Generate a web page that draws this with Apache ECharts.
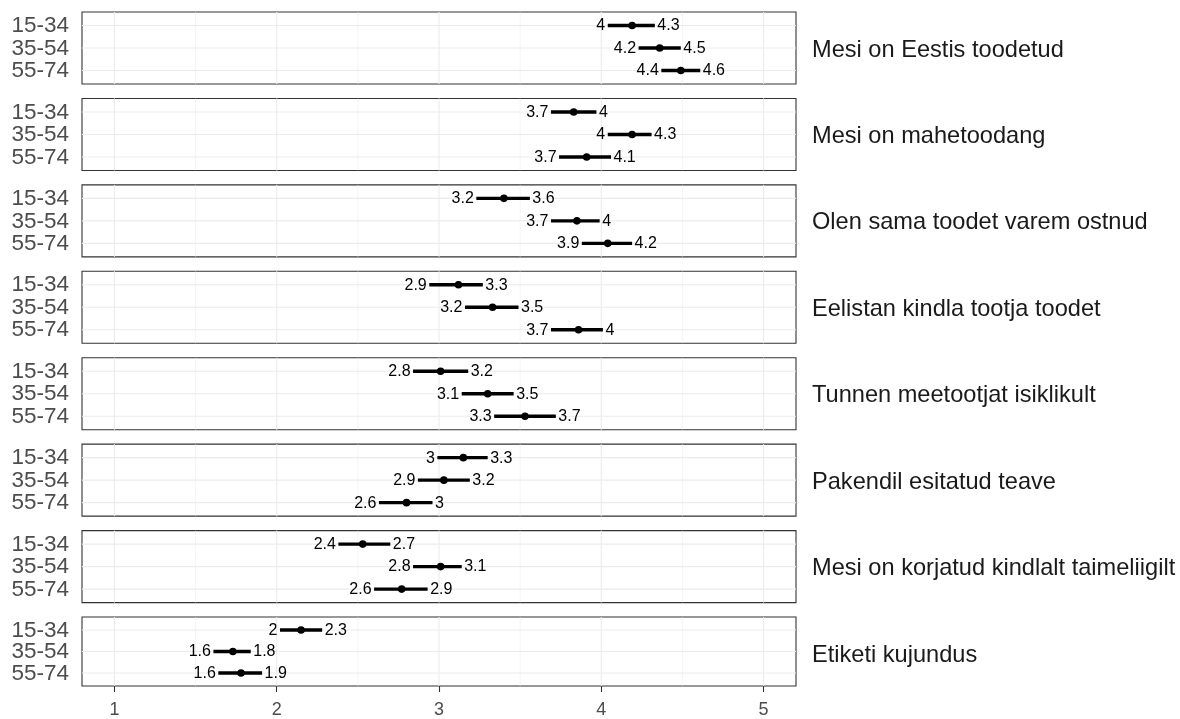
<!DOCTYPE html>
<html><head><meta charset="utf-8">
<script src="https://cdn.jsdelivr.net/npm/echarts@6/dist/echarts.min.js"></script>
<style>html,body{margin:0;padding:0;background:#fff}#c{width:1180px;height:719px}</style>
</head><body><div id="c"></div>
<script>
// ---- data ----
const panels = [
  'Mesi on Eestis toodetud',
  'Mesi on mahetoodang',
  'Olen sama toodet varem ostnud',
  'Eelistan kindla tootja toodet',
  'Tunnen meetootjat isiklikult',
  'Pakendil esitatud teave',
  'Mesi on korjatud kindlalt taimeliigilt',
  'Etiketi kujundus'
];
const ageGroups = ['15-34', '35-54', '55-74'];
const xTicks = [1, 2, 3, 4, 5];
const xMinorGrid = [1.5, 2.5, 3.5, 4.5];
// each row: [15-34, 35-54, 55-74]
const lower = [
  [4.04, 4.23, 4.37],
  [3.69, 4.04, 3.74],
  [3.23, 3.69, 3.88],
  [2.94, 3.16, 3.69],
  [2.84, 3.14, 3.34],
  [2.99, 2.87, 2.63],
  [2.38, 2.84, 2.60],
  [2.02, 1.61, 1.64]
];
const mean = [
  [4.19, 4.36, 4.49],
  [3.83, 4.19, 3.91],
  [3.40, 3.85, 4.04],
  [3.12, 3.33, 3.86],
  [3.01, 3.30, 3.53],
  [3.15, 3.03, 2.80],
  [2.53, 3.01, 2.77],
  [2.15, 1.73, 1.78]
];
const upper = [
  [4.33, 4.49, 4.61],
  [3.97, 4.31, 4.06],
  [3.56, 3.99, 4.19],
  [3.27, 3.49, 4.01],
  [3.18, 3.46, 3.72],
  [3.30, 3.19, 2.96],
  [2.70, 3.14, 2.93],
  [2.28, 1.84, 1.91]
];

// ---- layout / style ----
const FONT = '"Liberation Sans", Arial, sans-serif';
const panelTop0 = 12, panelStep = 86.43, panelH = 72, panelLeft = 82, panelRight = 384;
const fmt = v => String(Number(v.toFixed(1)));

const grids = [], xAxes = [], yAxes = [], series = [], titles = [];
panels.forEach((name, i) => {
  const top = panelTop0 + i * panelStep;
  const last = i === panels.length - 1;
  grids.push({left: panelLeft, right: panelRight, top: top, height: panelH,
    show: true, borderColor: '#333333', borderWidth: 1.1, backgroundColor: 'transparent', containLabel: false});
  xAxes.push({type: 'value', gridIndex: i, min: 0.8, max: 5.2,
    axisLine: {show: false}, splitLine: {show: false},
    axisTick: {show: last, customValues: xTicks, length: 6, lineStyle: {color: '#333333', width: 1.1}},
    axisLabel: {show: last, customValues: xTicks, showMinLabel: true, showMaxLabel: true,
      color: '#4d4d4d', fontSize: 18, fontFamily: FONT, margin: 15}
  });
  yAxes.push({type: 'value', gridIndex: i, min: 0.4, max: 3.6, inverse: true,
    axisLine: {show: false}, splitLine: {show: false}, axisTick: {show: false},
    axisLabel: {show: false}
  });
  // grid lines and age-group labels (through scales)
  const gl = [];
  xTicks.forEach(v => gl.push([v, 2, 'xmaj']));
  xMinorGrid.forEach(v => gl.push([v, 2, 'xmin']));
  ageGroups.forEach((g, k) => gl.push([3, k + 1, 'y']));
  series.push({type: 'custom', xAxisIndex: i, yAxisIndex: i, z: 1, silent: true, clip: false,
    data: gl,
    renderItem: (params, api) => {
      const cs = params.coordSys;
      const kind = gl[params.dataIndex][2];
      const p = api.coord([api.value(0), api.value(1)]);
      if (kind === 'y') {
        return {type: 'group', children: [
          {type: 'line', shape: {x1: cs.x, y1: p[1], x2: cs.x + cs.width, y2: p[1]},
            style: {stroke: '#ebebeb', lineWidth: 1.1}},
          {type: 'text', x: cs.x - 13, y: p[1] + 0.5,
            style: {text: ageGroups[Math.round(api.value(1)) - 1], align: 'right', verticalAlign: 'middle',
              fontSize: 22.5, fontFamily: FONT, fill: '#4d4d4d'}}
        ]};
      }
      return {type: 'line', shape: {x1: p[0], y1: cs.y, x2: p[0], y2: cs.y + cs.height},
        style: {stroke: '#ebebeb', lineWidth: kind === 'xmaj' ? 1.1 : 0.55}};
    }
  });
  // error bars, points, labels
  const d = ageGroups.map((g, k) => [mean[i][k], k + 1, lower[i][k], upper[i][k]]);
  series.push({type: 'custom', xAxisIndex: i, yAxisIndex: i, z: 3, clip: false,
    encode: {x: [0, 2, 3], y: 1},
    data: d,
    renderItem: (params, api) => {
      const y = api.value(1);
      const lo = api.value(2), hi = api.value(3), m = api.value(0);
      const pL = api.coord([lo, y]), pH = api.coord([hi, y]), pM = api.coord([m, y]);
      return {type: 'group', children: [
        {type: 'line', shape: {x1: pL[0], y1: pL[1], x2: pH[0], y2: pH[1]}, style: {stroke: '#000', lineWidth: 3.4}},
        {type: 'circle', shape: {cx: pM[0], cy: pM[1], r: 3.8}, style: {fill: '#000'}},
        {type: 'text', x: pL[0] - 2.5, y: pL[1] + 0.5, style: {text: fmt(lo), align: 'right', verticalAlign: 'middle',
          fontSize: 16, fontFamily: FONT, fill: '#000'}},
        {type: 'text', x: pH[0] + 2.5, y: pH[1] + 0.5, style: {text: fmt(hi), align: 'left', verticalAlign: 'middle',
          fontSize: 16, fontFamily: FONT, fill: '#000'}}
      ]};
    }
  });
  titles.push({text: name, left: 812, top: top + panelH / 2 - 11, padding: 0,
    textStyle: {fontSize: 23.6, fontWeight: 'normal', color: '#1a1a1a', fontFamily: FONT, lineHeight: 26}});
});

const chart = echarts.init(document.getElementById('c'), null, {renderer: 'canvas'});
chart.setOption({
  animation: false,
  backgroundColor: '#ffffff',
  title: titles,
  grid: grids,
  xAxis: xAxes,
  yAxis: yAxes,
  series: series
});
</script>
</body></html>
